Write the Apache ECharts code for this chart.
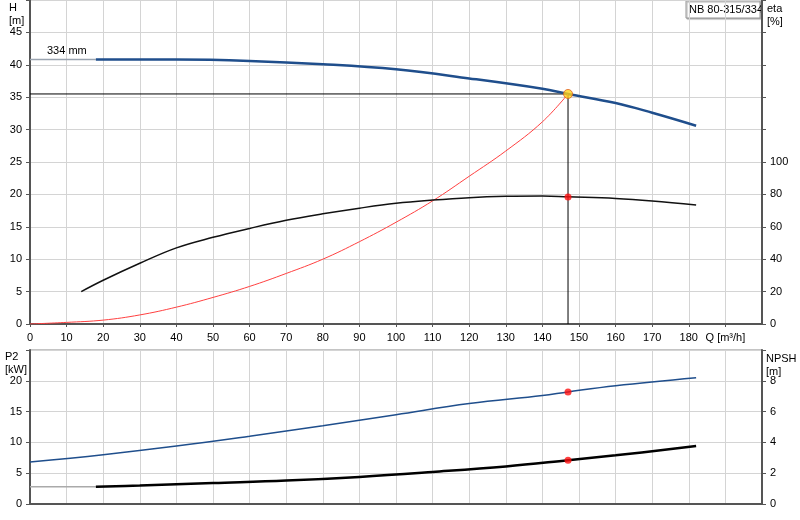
<!DOCTYPE html><html><head><meta charset="utf-8"><script src="https://cdn.jsdelivr.net/npm/echarts@6/dist/echarts.min.js"></script></head><body style="margin:0"><div id="c" style="width:800px;height:520px"></div><script>
const hGray=[[0,40.8],[18,40.8]];
const hCurve=[[18,40.8],[20,40.8],[40,40.8],[60,40.6],[80,40.1],[100,39.3],[120,37.9],[140,36.3],[147,35.5],[160,34.1],[170,32.6],[182,30.6]];
const sysCurve=[[0,0],[10,0.25],[20,0.6],[30,1.4],[40,2.6],[50,4.1],[60,5.8],[70,7.8],[80,10.0],[90,12.7],[100,15.7],[110,19.0],[120,22.8],[130,26.7],[140,31.2],[147,35.5]];
const etaCurve=[[14,20],[20,27],[30,37.5],[40,47],[50,53.5],[60,59],[70,64],[80,68],[90,71.5],[100,74.5],[110,76.5],[120,78],[130,78.8],[140,79],[147,78.5],[160,77.5],[170,76],[182,73.5]];
const p2Curve=[[0,6.8],[20,8],[40,9.4],[60,11],[80,12.7],[100,14.5],[120,16.3],[140,17.6],[147,18.2],[160,19.2],[182,20.5]];
const npshGray=[[0,1.12],[18,1.12]];
const npshCurve=[[18,1.12],[30,1.2],[50,1.36],[70,1.52],[90,1.76],[110,2.08],[130,2.44],[147,2.84],[160,3.16],[182,3.76]];
const duty={q:147,h:35.5,eta:78.4,p2:18.2,npsh:2.84};
const xLabels=[0,10,20,30,40,50,60,70,80,90,100,110,120,130,140,150,160,170,180];
const F='Liberation Sans';
const ax={fontFamily:F,fontSize:11,color:'#000'};
const gl={show:true,lineStyle:{color:'#d4d4d4'}};
const al={show:true,lineStyle:{color:'#555',width:2}};
const c=echarts.init(document.getElementById('c'));
c.setOption({animation:false,
grid:[{left:30,right:38,top:0,height:324,show:true,borderColor:'#888',borderWidth:1},{left:30,right:38,top:350,height:154,show:true,borderColor:'#888',borderWidth:1}],
xAxis:[{gridIndex:0,min:0,max:200,interval:10,axisLine:al,axisTick:{show:true,length:3},splitLine:gl,
 axisLabel:Object.assign({},ax,{formatter:v=>v==190?'Q [m³/h]':(xLabels.includes(v)?v:''),showMaxLabel:false})},
 {gridIndex:1,min:0,max:200,interval:10,axisLine:al,axisTick:{show:false},splitLine:gl,axisLabel:{show:false}}],
yAxis:[{gridIndex:0,min:0,max:50,interval:5,axisLine:al,axisTick:{show:true,length:4},splitLine:gl,axisLabel:Object.assign({},ax,{formatter:v=>v>=50?'':v})},
 {gridIndex:0,min:0,max:200,interval:20,position:'right',axisLine:al,axisTick:{show:true,length:4},splitLine:{show:false},axisLabel:Object.assign({},ax,{formatter:v=>v>100?'':v})},
 {gridIndex:1,min:0,max:25,interval:5,axisLine:al,axisTick:{show:true,length:4},splitLine:gl,axisLabel:Object.assign({},ax,{formatter:v=>v>=25?'':v})},
 {gridIndex:1,min:0,max:10,interval:2,position:'right',axisLine:al,axisTick:{show:true,length:4},splitLine:{show:false},axisLabel:Object.assign({},ax,{formatter:v=>v>=10?'':v})}],
graphic:[
 {type:'text',left:9,top:1,style:{text:'H\n[m]',font:'11px Liberation Sans',lineHeight:13,align:'center',fill:'#000'}},
 {type:'text',left:767,top:2,style:{text:'eta\n[%]',font:'11px Liberation Sans',lineHeight:13,fill:'#000'}},
 {type:'text',left:5,top:350,style:{text:'P2\n[kW]',font:'11px Liberation Sans',lineHeight:13,fill:'#000'}},
 {type:'text',left:766,top:352,style:{text:'NPSH\n[m]',font:'11px Liberation Sans',lineHeight:13,align:'center',fill:'#000'}},
 {type:'rect',shape:{x:686,y:1,width:74,height:17},style:{fill:'#fff',stroke:'#999',shadowColor:'#aaa',shadowOffsetX:1,shadowOffsetY:1,shadowBlur:1}},
 {type:'text',left:689,top:4,style:{text:'NB 80-315/334',font:'11px Liberation Sans',fill:'#000'}},
 {type:'text',left:47,top:45,style:{text:'334 mm',font:'11px Liberation Sans',fill:'#000'}}],
series:[
 {type:'line',data:[[0,duty.h],[duty.q,duty.h],[duty.q,0]],symbol:'none',lineStyle:{color:'#000',width:1},xAxisIndex:0,yAxisIndex:0},
 {type:'line',data:hGray,symbol:'none',lineStyle:{color:'#9aa4b0',width:1.5},xAxisIndex:0,yAxisIndex:0},
 {type:'line',data:hCurve,smooth:0.4,symbol:'none',lineStyle:{color:'#1f4e8c',width:2.5},xAxisIndex:0,yAxisIndex:0},
 {type:'line',data:sysCurve,smooth:0.4,symbol:'none',lineStyle:{color:'#ff4040',width:1},xAxisIndex:0,yAxisIndex:0},
 {type:'line',data:etaCurve,smooth:0.4,symbol:'none',lineStyle:{color:'#111',width:1.5},xAxisIndex:0,yAxisIndex:1},
 {type:'scatter',data:[[duty.q,duty.h]],symbolSize:9,itemStyle:{color:'#ffd21a',borderColor:'#e06020',borderWidth:1},xAxisIndex:0,yAxisIndex:0,z:5},
 {type:'scatter',data:[[duty.q,duty.eta]],symbolSize:7,itemStyle:{color:'#ff1010'},xAxisIndex:0,yAxisIndex:1,z:5},
 {type:'line',data:p2Curve,smooth:0.4,symbol:'none',lineStyle:{color:'#1f4e8c',width:1.5},xAxisIndex:1,yAxisIndex:2},
 {type:'line',data:npshGray,symbol:'none',lineStyle:{color:'#aaa',width:1.5},xAxisIndex:1,yAxisIndex:3},
 {type:'line',data:npshCurve,smooth:0.4,symbol:'none',lineStyle:{color:'#000',width:2.5},xAxisIndex:1,yAxisIndex:3},
 {type:'scatter',data:[[duty.q,duty.p2]],symbolSize:7,itemStyle:{color:'#ff1010'},xAxisIndex:1,yAxisIndex:2,z:5},
 {type:'scatter',data:[[duty.q,duty.npsh]],symbolSize:7,itemStyle:{color:'#ff1010'},xAxisIndex:1,yAxisIndex:3,z:5}]});
</script></body></html>
